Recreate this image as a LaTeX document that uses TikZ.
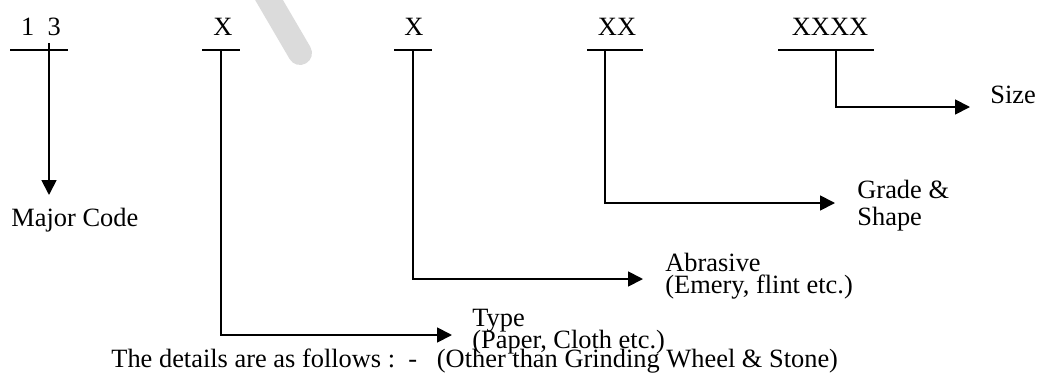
\documentclass[tikz,border=0pt]{standalone}
\usepackage{fontspec}
\setmainfont{Liberation Serif}
\usetikzlibrary{arrows.meta}
\begin{document}
\begin{tikzpicture}[x=0.5pt,y=-0.5pt,
  code/.style={anchor=base,inner sep=0pt,font=\fontsize{13.2pt}{15pt}\selectfont},
  lbl/.style={anchor=base west,inner sep=0pt,font=\fontsize{13.2pt}{15pt}\selectfont},
  rule/.style={line width=0.9pt},
  lead/.style={line width=0.9pt,-{Triangle[length=7.5pt,width=7.5pt]}}]
\useasboundingbox (0,0) rectangle (1037,375);
\begin{scope}
  \clip (0,0) rectangle (1037,375);
  % faint diagonal band in the background
  \draw[line width=12pt,line cap=round,color=black!14] (262,-12) -- (300,53);
\end{scope}

% code positions
\node[code] (c1) at (41,35) {1\ \ 3};
\node[code] (c2) at (223,35) {X};
\node[code] (c3) at (414,35) {X};
\node[code] (c4) at (617,35) {XX};
\node[code] (c5) at (830,35) {XXXX};

% rules under the codes
\coordinate (u1a) at (10,50);  \coordinate (u1b) at (68,50);
\coordinate (u2a) at (202,50); \coordinate (u2b) at (240,50);
\coordinate (u3a) at (394,50); \coordinate (u3b) at (432,50);
\coordinate (u4a) at (587,50); \coordinate (u4b) at (643,50);
\coordinate (u5a) at (778,50); \coordinate (u5b) at (874,50);
\foreach \i in {1,...,5} \draw[rule] (u\i a) -- (u\i b);

% stems leaving each rule
\coordinate (s1) at (49,43);
\coordinate (s2) at (221,50);
\coordinate (s3) at (413,50);
\coordinate (s4) at (605,50);
\coordinate (s5) at (836,50);

% descriptions, one node per line, placed on their baselines
\node[lbl] (major)  at (11,226)  {Major Code};
\node[lbl] (type)   at (472,326) {Type};
\node[lbl] (typeb)  at (472,348) {(Paper, Cloth etc.)};
\node[lbl] (abr)    at (665,271) {Abrasive};
\node[lbl] (abrb)   at (665,293) {(Emery, flint etc.)};
\node[lbl] (grade)  at (857,198) {Grade \&};
\node[lbl] (gradeb) at (857,225) {Shape};
\node[lbl] (size)   at (990,103) {Size};

% arrow ends
\coordinate (t1) at (49,195);
\coordinate (t2) at (452,335);
\coordinate (t3) at (643,279);
\coordinate (t4) at (835,203);
\coordinate (t5) at (970,107);

\draw[lead] (s1) -- (t1);
\draw[lead] (s2) |- (t2);
\draw[lead] (s3) |- (t3);
\draw[lead] (s4) |- (t4);
\draw[lead] (s5) |- (t5);

\node[lbl] (note) at (111,367) {The details are as follows :\ \ -\ \ \ (Other than Grinding Wheel \& Stone)};
\end{tikzpicture}
\end{document}
